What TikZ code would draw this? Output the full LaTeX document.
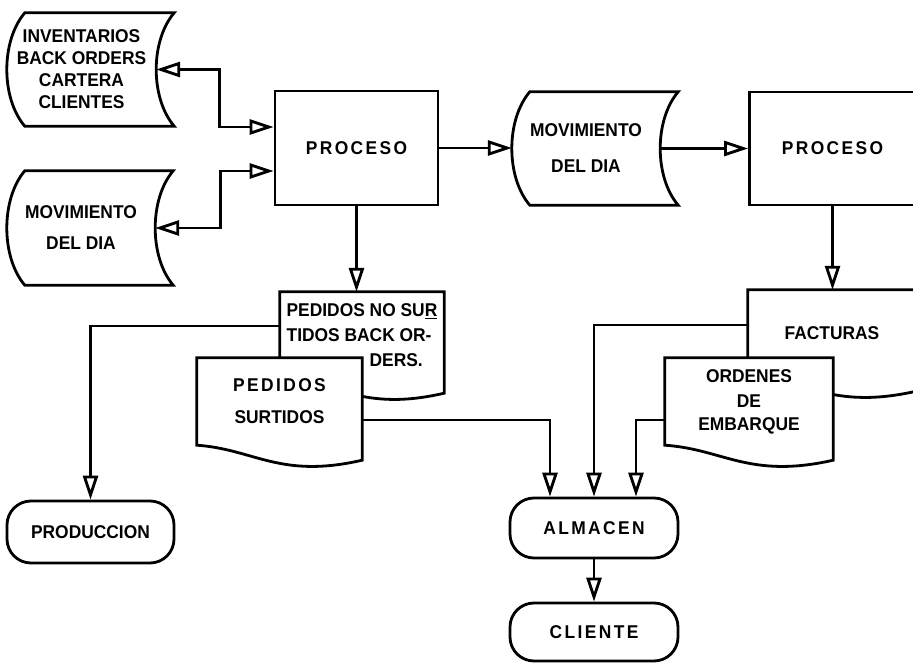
\documentclass[tikz,border=0pt]{standalone}
\usepackage{fontspec}
\setmainfont{Liberation Sans}[FakeStretch=0.94]
\newfontfamily\spacedfont{Liberation Sans}[FakeStretch=0.94, LetterSpace=13]
\usetikzlibrary{arrows.meta,calc,backgrounds}

% outline of a stored-data symbol: convex left side, concave right side
\newcommand{\storeoutline}[1]{%
  \draw[outline]
    ($(#1.north west)+(18,0)$) -- ($(#1.north east)+(18,0)$)
    .. controls ($(#1.north east)+(-6,-28)$) and ($(#1.south east)+(-6,28)$)
    .. ($(#1.south east)+(18,0)$) -- ($(#1.south west)+(18,0)$)
    .. controls ($(#1.south west)+(-6,28)$) and ($(#1.north west)+(-6,-28)$)
    .. cycle;}
% outline of a document symbol with a wavy lower edge
\newcommand{\docoutline}[1]{%
  \draw[outline, fill=white]
    (#1.south west) -- (#1.north west) -- (#1.north east)
    -- ($(#1.south east)+(0,-15)$)
    .. controls ($(#1.south west)!0.5!(#1.south east)+(0,-34)$)
       and ($(#1.south west)!0.35!(#1.south east)+(0,-4)$)
    .. (#1.south west) -- cycle;}

\begin{document}
\begin{tikzpicture}[x=1pt,y=1pt,
  lbl/.style={font=\fontsize{18.5}{22}\selectfont\bfseries, align=center, inner sep=0pt},
  outline/.style={line width=2.8pt, line join=miter},
  shapearea/.style={lbl},
  procbox/.style={lbl, draw, line width=2.8pt},
  terminal/.style={lbl, draw, line width=2.8pt, rounded corners=24pt},
  opentip/.tip={Triangle[open, length=24pt, width=15pt]},
  flow/.style={line width=2.8pt, line join=miter, -opentip},
  both/.style={line width=2.8pt, line join=miter, opentip-opentip}]

\useasboundingbox (0,0) rectangle (913,662);
\clip (0,0) rectangle (913,662);

% data stores
\node[shapearea, minimum width=149, minimum height=113] (inv) at (81.5,592.5)
  {INVENTARIOS\\BACK ORDERS\\CARTERA\\CLIENTES};
\node[shapearea, minimum width=148, minimum height=114] (mova) at (81,434)
  {MOVIMIENTO\\[9pt]DEL DIA};
\node[shapearea, minimum width=148, minimum height=113] (movb) at (586,513.5)
  {MOVIMIENTO\\[14pt]DEL DIA};

% processes
\node[procbox, minimum width=163, minimum height=114] (proca) at (356.5,514)
  {\spacedfont PROCESO};
\node[procbox, minimum width=166, minimum height=113] (procb) at (832.5,513.5)
  {\spacedfont PROCESO};

% documents
\node[shapearea, minimum width=164, minimum height=86, align=left] (pns) at (362,327)
  {PEDIDOS NO SU\underline{R}\\[3pt]TIDOS BACK OR-\\[3pt]\hspace*{83pt}DERS.};
\node[shapearea, minimum width=165, minimum height=87] (ps) at (279.5,260.5)
  {{\spacedfont PEDIDOS}\\[10pt]SURTIDOS};
\node[shapearea, minimum width=168, minimum height=86] (fac) at (832,329)
  {FACTURAS};
\node[shapearea, minimum width=168, minimum height=87] (ord) at (749,260.5)
  {ORDENES\\[3pt]DE\\[1pt]EMBARQUE};

% terminals
\node[terminal, minimum width=167, minimum height=62] (prod) at (90.5,130) {PRODUCCION};
\node[terminal, minimum width=168, minimum height=60] (alm) at (594,134) {\spacedfont ALMACEN};
\node[terminal, minimum width=168, minimum height=58] (cli) at (594,30) {\spacedfont CLIENTE};

\begin{pgfonlayer}{background}
  \clip (0,0) rectangle (913,662);
  \storeoutline{inv}
  \storeoutline{mova}
  \storeoutline{movb}
  \docoutline{pns}
  \docoutline{ps}
  \docoutline{fac}
  \docoutline{ord}
\end{pgfonlayer}

% connectors
\draw[both] (inv.east) -- ++(63,0) |- ([yshift=21pt]proca.west);
\draw[both] (mova.east) -- ++(65,0) |- ([yshift=-23pt]proca.west);
\draw[flow] (proca.east) -- (proca.east -| movb.west);
\draw[flow] (movb.east) -- (movb.east -| procb.west);
\draw[flow] (procb.south) -- (procb.south |- fac.north);
\draw[flow] (proca.south) -- (proca.south |- pns.north);
\draw[flow] ([yshift=9pt]pns.west) -| (prod.north);
\draw[flow] ([yshift=-18.5pt]ps.east) -| ([xshift=-44pt]alm.north);
\draw[flow] ([yshift=8pt]fac.west) -| (alm.north);
\draw[flow] ([yshift=-18.5pt]ord.west) -| ([xshift=42pt]alm.north);
\draw[flow] (alm.south) -- (cli.north);
\end{tikzpicture}
\end{document}
